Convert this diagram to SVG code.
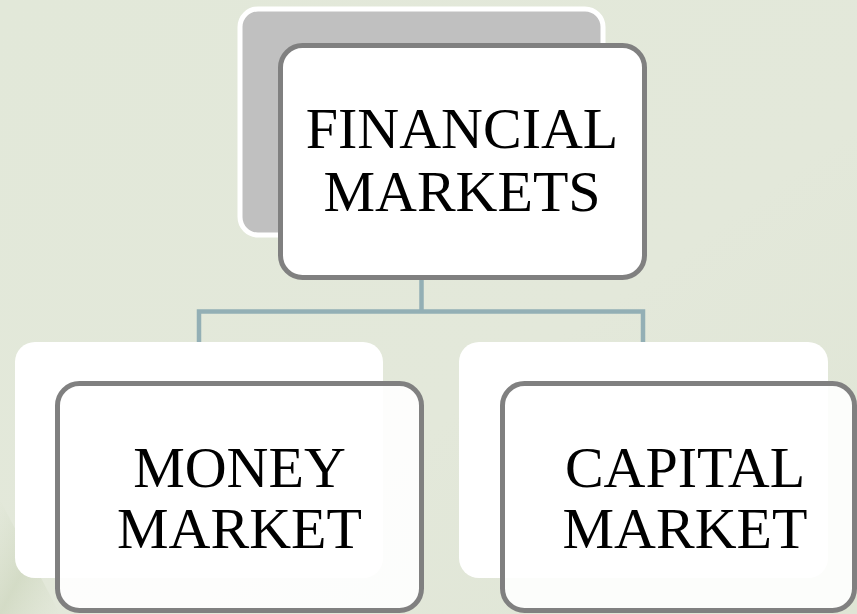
<svg xmlns="http://www.w3.org/2000/svg" width="857" height="614" viewBox="0 0 857 614">
  <defs>
    <linearGradient id="bg" x1="0" y1="0" x2="1" y2="1">
      <stop offset="0" stop-color="#e2e8d9"/>
      <stop offset="0.6" stop-color="#e3e8da"/>
      <stop offset="1" stop-color="#dfe5d5"/>
    </linearGradient>
    <linearGradient id="streak" x1="0" y1="0" x2="1" y2="1">
      <stop offset="0" stop-color="#c9d3b8" stop-opacity="0"/>
      <stop offset="0.5" stop-color="#bfcaab" stop-opacity="0.7"/>
      <stop offset="1" stop-color="#c9d3b8" stop-opacity="0"/>
    </linearGradient>
  </defs>
  <style>
    .back { fill: #ffffff; }
    .front { fill: #ffffff; fill-opacity: 0.9; stroke: #808080; stroke-width: 5; }
    .conn { fill: none; stroke: #93afb5; stroke-width: 4.5; }
    .label { font-family: "Liberation Serif", "Times New Roman", serif; font-size: 58px; fill: #000000; text-anchor: middle; }
  </style>
  <rect x="0" y="0" width="857" height="614" fill="url(#bg)"/>
  <path d="M0,500 L60,614 L0,614 Z" fill="url(#streak)" opacity="0.6"/>

  <g id="connectors">
    <path class="conn" d="M421.5,279 V311.5"/>
    <path class="conn" d="M199,342 V311.5 H643 V342"/>
  </g>

  <g id="node-financial">
    <rect x="240" y="9" width="363" height="226" rx="18" fill="#c0c0c0" stroke="#ffffff" stroke-width="5"/>
    <rect x="280.5" y="45.5" width="364" height="232" rx="22" fill="#ffffff" stroke="#808080" stroke-width="5"/>
    <text class="label" x="462" y="148">FINANCIAL</text>
    <text class="label" x="462" y="211">MARKETS</text>
  </g>

  <g id="node-money">
    <rect class="back" x="15" y="342" width="368" height="236" rx="20"/>
    <rect class="front" x="57.5" y="383.5" width="364" height="227" rx="22"/>
    <text class="label" x="239.5" y="487">MONEY</text>
    <text class="label" x="239.5" y="548">MARKET</text>
  </g>

  <g id="node-capital">
    <rect class="back" x="459" y="342" width="369" height="236" rx="20"/>
    <rect class="front" x="502.5" y="383.5" width="352" height="227" rx="22"/>
    <text class="label" x="685" y="487">CAPITAL</text>
    <text class="label" x="685" y="548">MARKET</text>
  </g>
</svg>
